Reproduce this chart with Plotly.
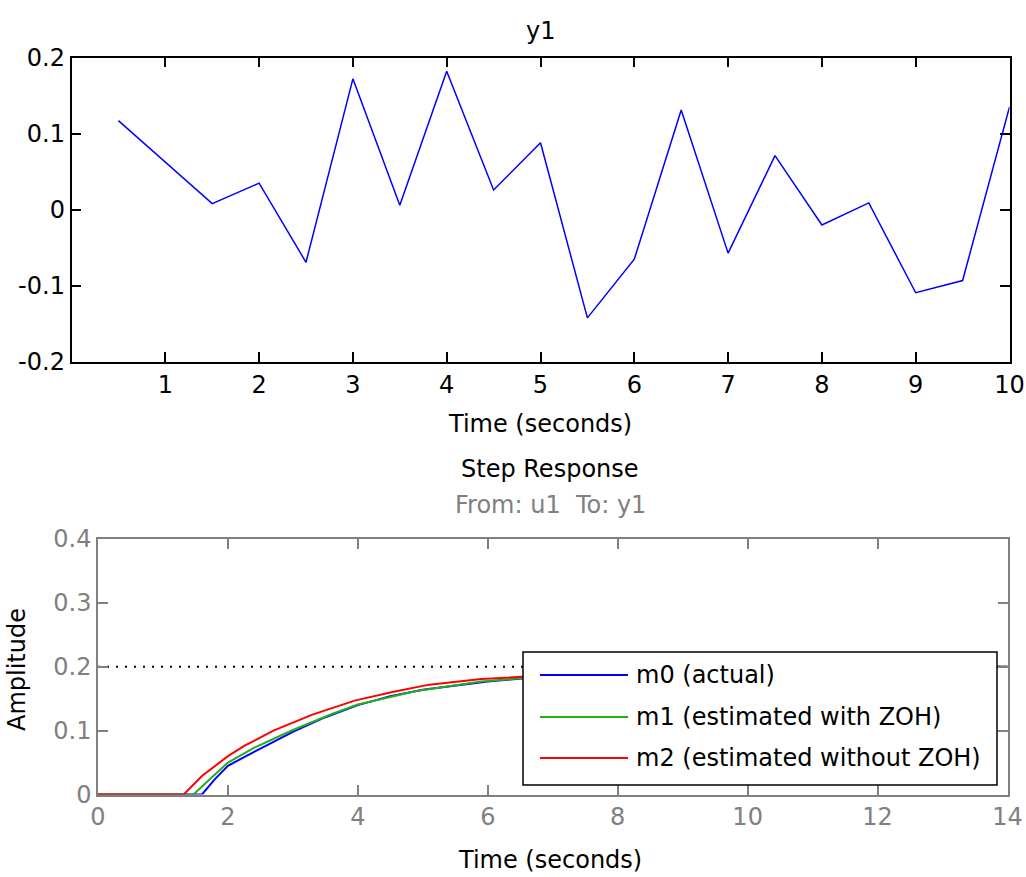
import plotly.graph_objects as go

# ---------------- data ----------------
# top panel: y1 output signal
t_y1 = [0.5, 1.0, 1.5, 2.0, 2.5, 3.0, 3.5, 4.0, 4.5, 5.0,
        5.5, 6.0, 6.5, 7.0, 7.5, 8.0, 8.5, 9.0, 9.5, 10.0]
y1_vals = [0.117, 0.062, 0.008, 0.035, -0.069, 0.172, 0.006, 0.182, 0.026, 0.088,
           -0.142, -0.065, 0.131, -0.057, 0.071, -0.020, 0.009, -0.109, -0.093, 0.135]
top_xticks = [1, 2, 3, 4, 5, 6, 7, 8, 9, 10]
top_yticks = [-0.2, -0.1, 0, 0.1, 0.2]
top_yticktext = ["-0.2", "-0.1", "0", "0.1", "0.2"]

# bottom panel: step responses
t_m0 = [0, 1.6, 1.8, 2.0, 2.5, 3.0, 3.5, 4.0, 4.5, 5.0, 6.0, 7.0, 8.0, 10.0, 12.0, 14.0]
y_m0 = [0, 0, 0.024, 0.045, 0.072, 0.098, 0.121, 0.140, 0.154, 0.164, 0.177, 0.186, 0.191, 0.196, 0.199, 0.200]
t_m1 = [0, 1.47, 1.7, 2.0, 2.4, 3.0, 3.6, 4.0, 4.9, 5.9, 7.0, 8.0, 10.0, 12.0, 14.0]
y_m1 = [0, 0, 0.022, 0.050, 0.073, 0.101, 0.126, 0.141, 0.162, 0.177, 0.186, 0.191, 0.196, 0.199, 0.200]
t_m2 = [0, 1.32, 1.6, 2.0, 2.25, 2.7, 3.3, 3.95, 4.55, 5.1, 5.9, 6.6, 8.0, 10.0, 12.0, 14.0]
y_m2 = [0, 0, 0.029, 0.060, 0.076, 0.100, 0.125, 0.147, 0.161, 0.172, 0.181, 0.185, 0.192, 0.197, 0.199, 0.200]
t_final = [0, 14]
y_final = [0.2, 0.2]
bottom_xticks = [0, 2, 4, 6, 8, 10, 12, 14]
bottom_yticks = [0, 0.1, 0.2, 0.3, 0.4]
bottom_yticktext = ["0", "0.1", "0.2", "0.3", "0.4"]
legend_names = ["m0 (actual)", "m1 (estimated with ZOH)", "m2 (estimated without ZOH)"]

# ---------------- styles ----------------
FONT = "DejaVu Sans"
FS = 24
W, H = 1026, 877
BLUE, GREEN, RED = "#0000FF", "#1FAF1F", "#FF0000"
GRAY = "#808080"

def px(x):
    return x / W

def py(y):
    return 1 - y / H

fig = go.Figure()

fig.add_trace(go.Scatter(x=t_y1, y=y1_vals, mode="lines",
                         line=dict(color=BLUE, width=1.5),
                         xaxis="x", yaxis="y", showlegend=False))

fig.add_trace(go.Scatter(x=t_final, y=y_final, mode="lines",
                         line=dict(color="black", width=2, dash="2px,7px"),
                         xaxis="x2", yaxis="y2", showlegend=False))
for t, v, c, n in [(t_m0, y_m0, BLUE, legend_names[0]),
                   (t_m1, y_m1, GREEN, legend_names[1]),
                   (t_m2, y_m2, RED, legend_names[2])]:
    fig.add_trace(go.Scatter(x=t, y=v, mode="lines", name=n,
                             line=dict(color=c, width=2),
                             xaxis="x2", yaxis="y2", showlegend=False))

ax_common = dict(showgrid=False, zeroline=False, showline=True, ticks="inside",
                 ticklen=10, mirror="ticks", linewidth=1.5, tickwidth=1.5,
                 automargin=False)

fig.update_layout(
    width=W, height=H, autosize=False,
    margin=dict(l=0, r=0, t=0, b=0, pad=0, autoexpand=False),
    paper_bgcolor="white", plot_bgcolor="white",
    font=dict(family=FONT, size=FS, color="black"),
    xaxis=dict(domain=[px(71.5), px(1009.5)], range=[0, 10], tickvals=top_xticks,
               linecolor="black", tickcolor="black",
               tickfont=dict(color="black", size=FS), anchor="y", **ax_common),
    yaxis=dict(domain=[py(362), py(57.5)], range=[-0.2, 0.2], tickvals=top_yticks,
               ticktext=top_yticktext, linecolor="black", tickcolor="black",
               tickfont=dict(color="black", size=FS), anchor="x", **ax_common),
    xaxis2=dict(domain=[px(98), px(1007.5)], range=[0, 14], tickvals=bottom_xticks,
                linecolor=GRAY, tickcolor=GRAY,
                tickfont=dict(color=GRAY, size=FS), anchor="y2", **ax_common),
    yaxis2=dict(domain=[py(794.5), py(539)], range=[0, 0.4], tickvals=bottom_yticks,
                ticktext=bottom_yticktext, linecolor=GRAY, tickcolor=GRAY,
                tickfont=dict(color=GRAY, size=FS), anchor="x2", **ax_common),
)

ann = [
    dict(text="y1", x=px(540), y=py(31)),
    dict(text="Time (seconds)", x=px(540), y=py(424)),
    dict(text="Step Response", x=px(550), y=py(469)),
    dict(text="From: u1  To: y1", x=px(550), y=py(505), font=dict(color=GRAY, size=FS, family=FONT)),
    dict(text="Time (seconds)", x=px(550), y=py(860)),
    dict(text="Amplitude", x=px(17), y=py(670), textangle=-90),
]
for a in ann:
    base = dict(xref="paper", yref="paper", showarrow=False, xanchor="center", yanchor="middle",
                font=dict(color="black", size=FS, family=FONT))
    base.update(a)
    fig.add_annotation(**base)

# manual legend box (MATLAB style)
lx0, lx1, ly0, ly1 = 523, 997, 652, 785
fig.add_shape(type="rect", xref="paper", yref="paper",
              x0=px(lx0), x1=px(lx1), y0=py(ly1), y1=py(ly0),
              line=dict(color="black", width=1.5), fillcolor="white", layer="above")
rows = [675, 717, 758]
for rowy, c, n in zip(rows, [BLUE, GREEN, RED], legend_names):
    fig.add_shape(type="line", xref="paper", yref="paper",
                  x0=px(540), x1=px(628), y0=py(rowy), y1=py(rowy),
                  line=dict(color=c, width=2), layer="above")
    fig.add_annotation(text=n, xref="paper", yref="paper", x=px(634), y=py(rowy),
                       xanchor="left", yanchor="middle", showarrow=False,
                       font=dict(color="black", size=FS, family=FONT))

css = ("document.documentElement.style.margin='0';"
       "document.documentElement.style.padding='0';"
       "document.documentElement.style.overflow='hidden';"
       "document.body.style.margin='0';"
       "document.body.style.padding='0';"
       "document.body.style.overflow='hidden';")
fig.write_html("out.html", post_script=css, config={"displayModeBar": False})
